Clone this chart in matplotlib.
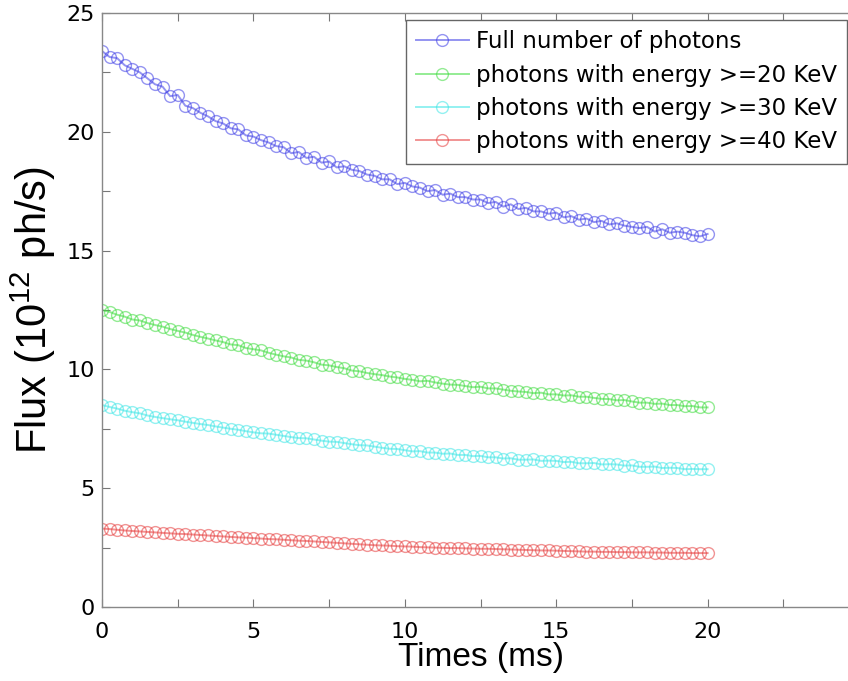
import numpy as np
from matplotlib import pyplot as plt

# Time axis (ms), one sample every 0.25 ms
times = np.arange(0, 20.01, 0.25)

# Flux values (10^12 ph/s)
flux_full = [23.4, 23.15, 23.1, 22.8, 22.65, 22.5, 22.25, 22.0,
             21.9, 21.5, 21.55, 21.1, 21.0, 20.8, 20.65, 20.45,
             20.35, 20.15, 20.1, 19.85, 19.8, 19.65, 19.55, 19.4,
             19.35, 19.1, 19.15, 18.9, 18.95, 18.7, 18.75, 18.5,
             18.55, 18.4, 18.35, 18.2, 18.15, 18.0, 18.0, 17.8,
             17.85, 17.7, 17.65, 17.5, 17.55, 17.35, 17.4, 17.25,
             17.25, 17.15, 17.15, 17.0, 17.05, 16.85, 16.95, 16.75,
             16.8, 16.65, 16.65, 16.55, 16.6, 16.4, 16.45, 16.3,
             16.35, 16.2, 16.25, 16.1, 16.15, 16.05, 16.0, 15.95,
             16.0, 15.8, 15.9, 15.75, 15.8, 15.75, 15.65, 15.6,
             15.7]
flux_20kev = [12.5, 12.42, 12.3, 12.22, 12.1, 12.06, 11.95, 11.87,
              11.8, 11.7, 11.62, 11.55, 11.45, 11.37, 11.3, 11.22,
              11.15, 11.05, 11.02, 10.9, 10.85, 10.8, 10.7, 10.62,
              10.55, 10.5, 10.4, 10.37, 10.3, 10.2, 10.17, 10.1,
              10.05, 9.95, 9.92, 9.85, 9.8, 9.76, 9.7, 9.66,
              9.6, 9.56, 9.5, 9.52, 9.45, 9.4, 9.36, 9.35,
              9.3, 9.25, 9.27, 9.2, 9.2, 9.15, 9.1, 9.07,
              9.05, 9.0, 9.02, 8.95, 8.95, 8.9, 8.91, 8.85,
              8.85, 8.8, 8.76, 8.75, 8.7, 8.71, 8.65, 8.6,
              8.6, 8.55, 8.56, 8.5, 8.5, 8.45, 8.46, 8.4,
              8.4]
flux_30kev = [8.5, 8.42, 8.35, 8.26, 8.2, 8.15, 8.06, 8.0,
              7.95, 7.9, 7.86, 7.8, 7.75, 7.7, 7.66, 7.6,
              7.55, 7.5, 7.46, 7.4, 7.35, 7.31, 7.3, 7.25,
              7.2, 7.15, 7.11, 7.1, 7.05, 7.0, 6.96, 6.95,
              6.9, 6.85, 6.81, 6.8, 6.75, 6.7, 6.66, 6.65,
              6.6, 6.55, 6.56, 6.5, 6.5, 6.45, 6.46, 6.4,
              6.4, 6.35, 6.36, 6.3, 6.3, 6.25, 6.26, 6.2,
              6.2, 6.21, 6.15, 6.16, 6.15, 6.1, 6.11, 6.05,
              6.05, 6.06, 6.0, 6.01, 6.0, 5.95, 5.96, 5.9,
              5.9, 5.91, 5.85, 5.86, 5.85, 5.8, 5.81, 5.8,
              5.8]
flux_40kev = [3.3, 3.28, 3.25, 3.22, 3.2, 3.18, 3.16, 3.14,
              3.12, 3.1, 3.08, 3.07, 3.05, 3.03, 3.01, 2.99,
              2.97, 2.95, 2.93, 2.92, 2.9, 2.88, 2.86, 2.85,
              2.83, 2.81, 2.79, 2.78, 2.76, 2.74, 2.72, 2.7,
              2.68, 2.66, 2.64, 2.62, 2.6, 2.59, 2.58, 2.56,
              2.55, 2.54, 2.52, 2.51, 2.5, 2.49, 2.48, 2.48,
              2.47, 2.46, 2.45, 2.45, 2.44, 2.43, 2.42, 2.41,
              2.4, 2.39, 2.38, 2.38, 2.37, 2.36, 2.35, 2.34,
              2.33, 2.33, 2.32, 2.32, 2.31, 2.31, 2.3, 2.3,
              2.3, 2.29, 2.29, 2.28, 2.28, 2.28, 2.27, 2.27,
              2.27]

labels = ["Full number of photons",
          "photons with energy >=20 KeV",
          "photons with energy >=30 KeV",
          "photons with energy >=40 KeV"]
colors = ["#3c3ce6", "#3cdc3c", "#3ce6e6", "#e63c3c"]
series = [flux_full, flux_20kev, flux_30kev, flux_40kev]

plt.rcParams['mathtext.default'] = 'regular'

fig = plt.figure(figsize=(8.48, 6.81), dpi=100)
# axes run past the right edge of the picture, like the cropped original
ax = fig.add_axes([102 / 848, 74 / 681, 757 / 848, 594 / 681])

for vals, col, lab in zip(series, colors, labels):
    ax.plot(times, vals, '-o', color=col, alpha=0.55, lw=1.4,
            markersize=8.5, markerfacecolor='none', markeredgewidth=1.0,
            label=lab)

ax.set_xlim(0, 25)
ax.set_ylim(0, 25)
ax.set_xticks(np.arange(0, 26, 5))
ax.set_yticks(np.arange(0, 26, 5))
ax.set_xticks(np.arange(0, 25.1, 2.5), minor=True)
ax.set_yticks(np.arange(0, 25.1, 2.5), minor=True)
ax.set_xticklabels([str(v) for v in range(0, 21, 5)] + [""])
ax.tick_params(which='both', direction='in', length=6, width=0.8,
               color='#777777', top=True, right=True)
ax.tick_params(axis='x', which='major', labelsize=16, pad=11)
ax.tick_params(axis='y', which='major', labelsize=16, pad=5)
for sp in ax.spines.values():
    sp.set_color('#888888')
    sp.set_linewidth(1)

ax.set_xlabel("Times (ms)", family='Liberation Sans', fontsize=24, labelpad=0)
ax.set_ylabel("Flux (10$^{12}$ ph/s)", family='Liberation Sans', fontsize=30,
              labelpad=6)

leg = ax.legend(loc='upper right', bbox_to_anchor=(847 / 848, 1 - 20 / 681),
                bbox_transform=fig.transFigure, fontsize=16.5, fancybox=False,
                edgecolor='#666666', framealpha=1, borderaxespad=0,
                handlelength=2.3, handletextpad=0.3, labelspacing=0.45,
                borderpad=0.45)
leg.get_frame().set_linewidth(1)

fig.savefig("out.png", dpi=100)
